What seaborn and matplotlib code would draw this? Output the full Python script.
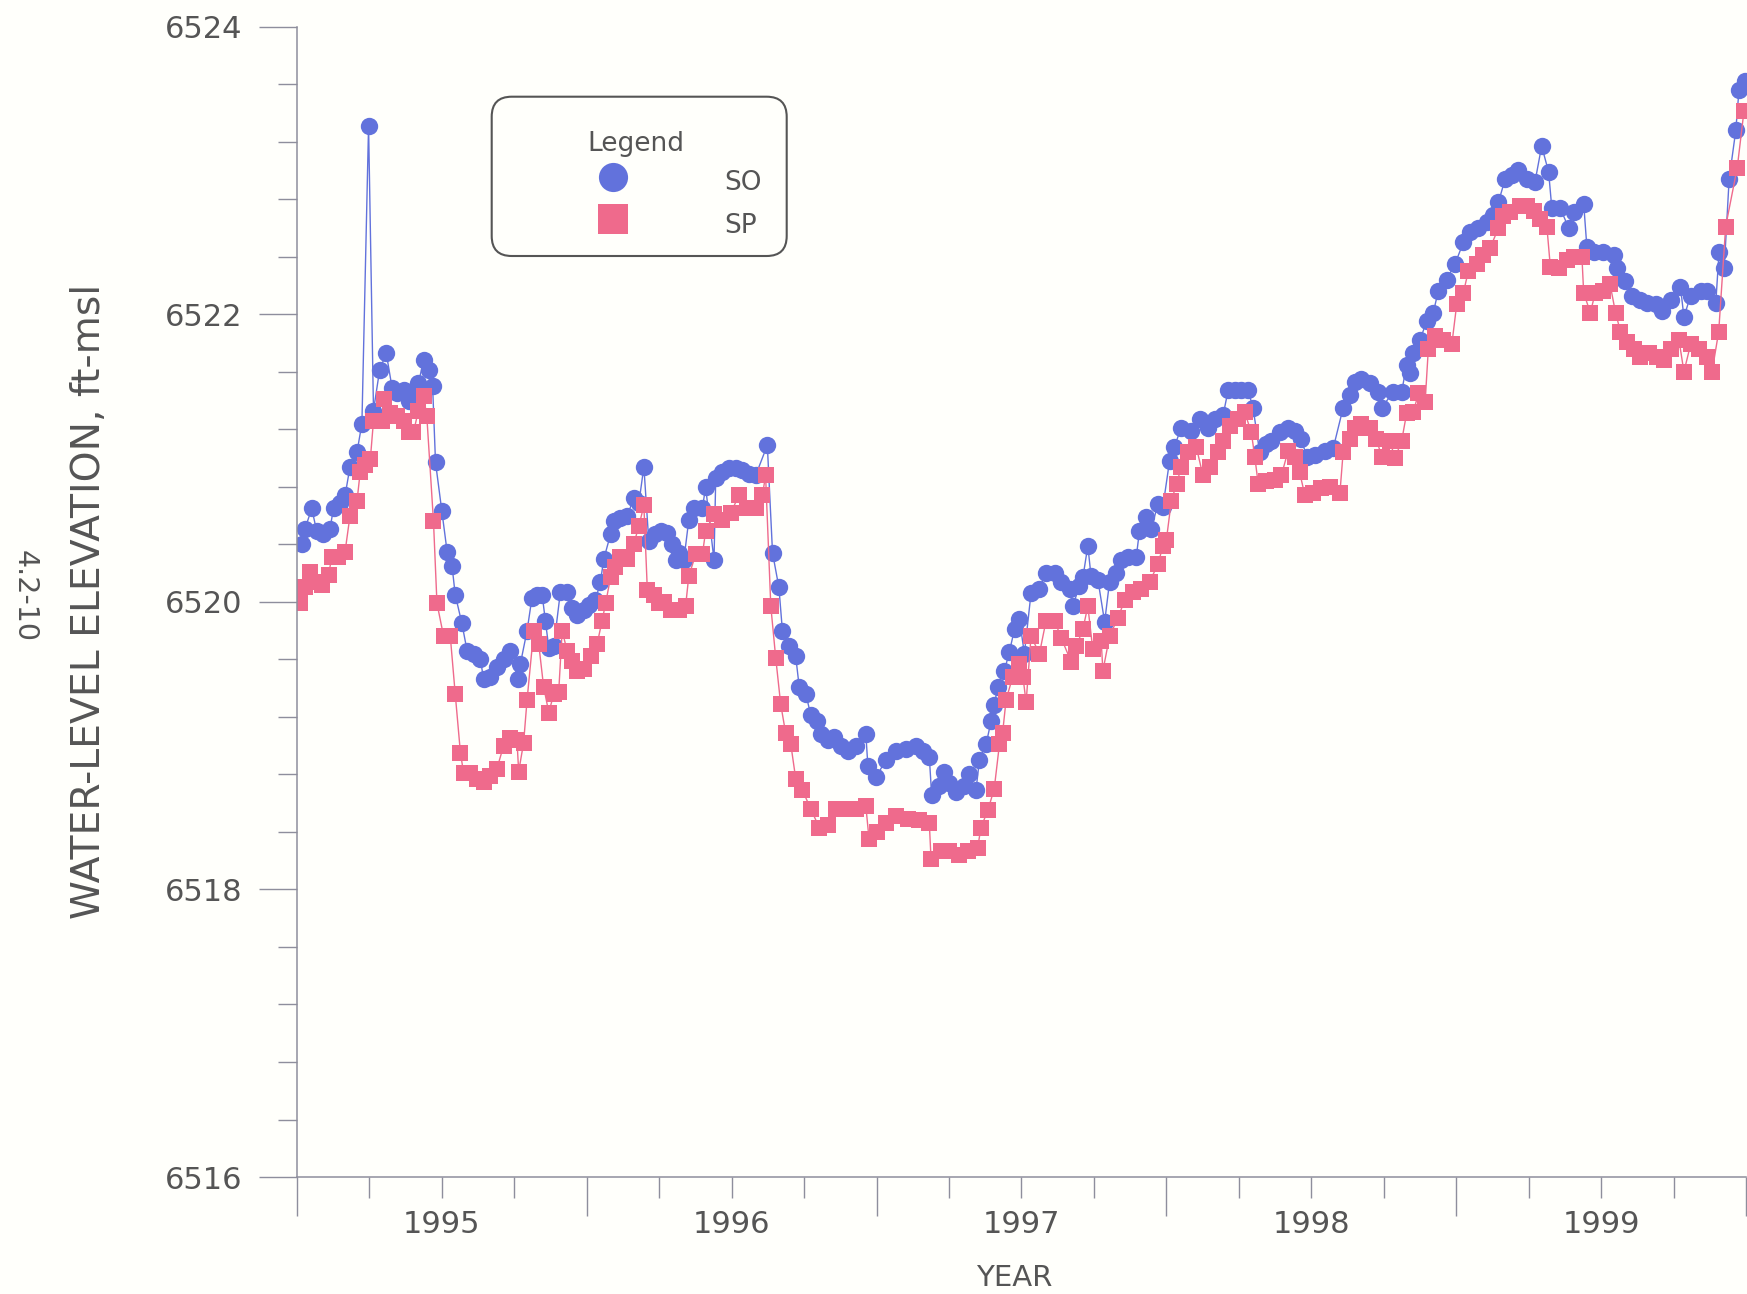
import numpy as np
import pandas as pd
import matplotlib
matplotlib.use("Agg")
import matplotlib.pyplot as plt
import seaborn as sns
from matplotlib.ticker import FixedLocator, FuncFormatter, NullFormatter
from matplotlib.lines import Line2D
from matplotlib.patches import FancyBboxPatch
from matplotlib.transforms import IdentityTransform

# Water-level observations (decimal year, elevation in ft above mean sea level)
so_year = [
    1995.017, 1995.028, 1995.051, 1995.068, 1995.091, 1995.114, 1995.126, 1995.149,
    1995.166, 1995.183, 1995.207, 1995.224, 1995.247, 1995.264, 1995.285, 1995.308,
    1995.328, 1995.345, 1995.368, 1995.385, 1995.402, 1995.419, 1995.437, 1995.454,
    1995.468, 1995.478, 1995.500, 1995.518, 1995.535, 1995.546, 1995.569, 1995.587,
    1995.610, 1995.633, 1995.644, 1995.667, 1995.690, 1995.713, 1995.736, 1995.763,
    1995.771, 1995.794, 1995.811, 1995.829, 1995.846, 1995.857, 1995.869, 1995.886,
    1995.909, 1995.932, 1995.950, 1995.967, 1995.990, 1996.007, 1996.030, 1996.047,
    1996.059, 1996.082, 1996.093, 1996.116, 1996.140, 1996.162, 1996.180, 1996.197,
    1996.214, 1996.237, 1996.255, 1996.278, 1996.295, 1996.307, 1996.318, 1996.335,
    1996.352, 1996.370, 1996.399, 1996.410, 1996.439, 1996.445, 1996.468, 1996.491,
    1996.514, 1996.537, 1996.560, 1996.583, 1996.623, 1996.641, 1996.663, 1996.675,
    1996.698, 1996.721, 1996.733, 1996.756, 1996.773, 1996.796, 1996.808, 1996.831,
    1996.854, 1996.877, 1996.900, 1996.928, 1996.963, 1996.970, 1996.998, 1997.032,
    1997.067, 1997.101, 1997.136, 1997.159, 1997.182, 1997.190, 1997.216, 1997.234,
    1997.251, 1997.274, 1997.303, 1997.320, 1997.343, 1997.355, 1997.378, 1997.395,
    1997.406, 1997.418, 1997.441, 1997.458, 1997.476, 1997.493, 1997.510, 1997.533,
    1997.562, 1997.585, 1997.614, 1997.637, 1997.666, 1997.677, 1997.700, 1997.712,
    1997.729, 1997.740, 1997.764, 1997.787, 1997.804, 1997.827, 1997.844, 1997.867,
    1997.896, 1997.907, 1997.931, 1997.948, 1997.971, 1997.988, 1998.011, 1998.028,
    1998.051, 1998.086, 1998.115, 1998.144, 1998.167, 1998.196, 1998.213, 1998.236,
    1998.259, 1998.282, 1998.299, 1998.322, 1998.345, 1998.362, 1998.391, 1998.420,
    1998.443, 1998.466, 1998.484, 1998.512, 1998.547, 1998.576, 1998.610, 1998.633,
    1998.650, 1998.673, 1998.702, 1998.731, 1998.743, 1998.783, 1998.812, 1998.829,
    1998.840, 1998.852, 1998.875, 1998.898, 1998.921, 1998.938, 1998.967, 1998.996,
    1999.025, 1999.048, 1999.077, 1999.106, 1999.128, 1999.146, 1999.169, 1999.192,
    1999.215, 1999.244, 1999.272, 1999.295, 1999.319, 1999.330, 1999.359, 1999.388,
    1999.405, 1999.440, 1999.451, 1999.474, 1999.508, 1999.543, 1999.555, 1999.583,
    1999.607, 1999.635, 1999.659, 1999.688, 1999.711, 1999.740, 1999.774, 1999.786,
    1999.809, 1999.844, 1999.867, 1999.896, 1999.907, 1999.925, 1999.942, 1999.965,
    1999.976, 1999.998,
]
so_elev = [
    6520.40, 6520.51, 6520.65, 6520.49, 6520.47, 6520.51, 6520.65, 6520.69,
    6520.74, 6520.94, 6521.04, 6521.24, 6523.31, 6521.33, 6521.61, 6521.73,
    6521.49, 6521.45, 6521.47, 6521.40, 6521.43, 6521.52, 6521.68, 6521.61,
    6521.50, 6520.97, 6520.63, 6520.35, 6520.25, 6520.05, 6519.85, 6519.66,
    6519.64, 6519.60, 6519.46, 6519.48, 6519.55, 6519.60, 6519.66, 6519.46,
    6519.57, 6519.80, 6520.03, 6520.05, 6520.05, 6519.87, 6519.68, 6519.69,
    6520.07, 6520.07, 6519.96, 6519.91, 6519.94, 6519.98, 6520.01, 6520.14,
    6520.30, 6520.47, 6520.56, 6520.58, 6520.60, 6520.72, 6520.69, 6520.94,
    6520.42, 6520.47, 6520.49, 6520.48, 6520.40, 6520.29, 6520.34, 6520.29,
    6520.57, 6520.65, 6520.65, 6520.80, 6520.29, 6520.86, 6520.90, 6520.93,
    6520.93, 6520.92, 6520.89, 6520.88, 6521.09, 6520.34, 6520.10, 6519.80,
    6519.69, 6519.62, 6519.41, 6519.36, 6519.21, 6519.17, 6519.08, 6519.04,
    6519.06, 6519.00, 6518.96, 6519.00, 6519.08, 6518.86, 6518.78, 6518.90,
    6518.96, 6518.98, 6519.00, 6518.96, 6518.92, 6518.66, 6518.72, 6518.82,
    6518.74, 6518.68, 6518.72, 6518.80, 6518.69, 6518.90, 6519.01, 6519.17,
    6519.28, 6519.41, 6519.52, 6519.65, 6519.81, 6519.88, 6519.64, 6520.06,
    6520.09, 6520.20, 6520.20, 6520.14, 6520.09, 6519.97, 6520.11, 6520.17,
    6520.39, 6520.18, 6520.15, 6519.86, 6520.14, 6520.20, 6520.29, 6520.31,
    6520.31, 6520.49, 6520.59, 6520.51, 6520.68, 6520.66, 6520.98, 6521.08,
    6521.21, 6521.19, 6521.27, 6521.21, 6521.27, 6521.30, 6521.47, 6521.47,
    6521.47, 6521.47, 6521.35, 6521.04, 6521.10, 6521.12, 6521.18, 6521.21,
    6521.19, 6521.13, 6521.01, 6521.02, 6521.05, 6521.07, 6521.35, 6521.44,
    6521.53, 6521.55, 6521.52, 6521.46, 6521.35, 6521.46, 6521.46, 6521.65,
    6521.59, 6521.73, 6521.82, 6521.95, 6522.01, 6522.16, 6522.24, 6522.35,
    6522.50, 6522.57, 6522.60, 6522.64, 6522.69, 6522.78, 6522.94, 6522.97,
    6523.00, 6522.94, 6522.92, 6523.17, 6522.99, 6522.74, 6522.74, 6522.60,
    6522.71, 6522.77, 6522.47, 6522.43, 6522.43, 6522.41, 6522.32, 6522.23,
    6522.13, 6522.10, 6522.08, 6522.07, 6522.02, 6522.10, 6522.19, 6521.98,
    6522.13, 6522.16, 6522.16, 6522.08, 6522.43, 6522.32, 6522.94, 6523.28,
    6523.56, 6523.62,
]

sp_year = [
    1995.011, 1995.028, 1995.045, 1995.068, 1995.086, 1995.109, 1995.120, 1995.143,
    1995.166, 1995.183, 1995.207, 1995.218, 1995.235, 1995.253, 1995.264, 1995.293,
    1995.299, 1995.322, 1995.345, 1995.368, 1995.385, 1995.402, 1995.419, 1995.437,
    1995.448, 1995.471, 1995.483, 1995.506, 1995.529, 1995.546, 1995.564, 1995.575,
    1995.598, 1995.621, 1995.644, 1995.667, 1995.690, 1995.713, 1995.736, 1995.759,
    1995.765, 1995.782, 1995.794, 1995.817, 1995.834, 1995.851, 1995.869, 1995.886,
    1995.903, 1995.915, 1995.932, 1995.950, 1995.967, 1995.990, 1996.013, 1996.036,
    1996.053, 1996.065, 1996.082, 1996.099, 1996.116, 1996.140, 1996.162, 1996.180,
    1996.197, 1996.209, 1996.232, 1996.249, 1996.266, 1996.289, 1996.318, 1996.341,
    1996.352, 1996.376, 1996.399, 1996.410, 1996.439, 1996.468, 1996.497, 1996.525,
    1996.554, 1996.583, 1996.606, 1996.617, 1996.635, 1996.652, 1996.669, 1996.686,
    1996.704, 1996.721, 1996.744, 1996.773, 1996.802, 1996.831, 1996.859, 1996.894,
    1996.928, 1996.963, 1996.974, 1997.003, 1997.032, 1997.067, 1997.107, 1997.147,
    1997.182, 1997.188, 1997.222, 1997.251, 1997.286, 1997.314, 1997.349, 1997.360,
    1997.384, 1997.406, 1997.424, 1997.435, 1997.447, 1997.470, 1997.493, 1997.505,
    1997.516, 1997.533, 1997.562, 1997.585, 1997.614, 1997.637, 1997.672, 1997.689,
    1997.712, 1997.729, 1997.746, 1997.775, 1997.781, 1997.804, 1997.833, 1997.856,
    1997.885, 1997.913, 1997.942, 1997.971, 1997.988, 1998.000, 1998.017, 1998.035,
    1998.052, 1998.075, 1998.103, 1998.126, 1998.149, 1998.178, 1998.196, 1998.218,
    1998.247, 1998.270, 1998.293, 1998.305, 1998.317, 1998.345, 1998.374, 1998.397,
    1998.420, 1998.443, 1998.460, 1998.478, 1998.507, 1998.535, 1998.564, 1998.599,
    1998.610, 1998.633, 1998.650, 1998.673, 1998.702, 1998.725, 1998.743, 1998.771,
    1998.789, 1998.812, 1998.829, 1998.852, 1998.870, 1998.893, 1998.904, 1998.927,
    1998.956, 1998.985, 1999.002, 1999.025, 1999.042, 1999.071, 1999.094, 1999.117,
    1999.146, 1999.163, 1999.186, 1999.221, 1999.244, 1999.267, 1999.290, 1999.313,
    1999.325, 1999.354, 1999.383, 1999.405, 1999.434, 1999.440, 1999.463, 1999.480,
    1999.508, 1999.531, 1999.550, 1999.567, 1999.590, 1999.613, 1999.636, 1999.665,
    1999.693, 1999.716, 1999.740, 1999.769, 1999.786, 1999.809, 1999.838, 1999.867,
    1999.883, 1999.906, 1999.930, 1999.970, 1999.993,
]
sp_elev = [
    6519.99, 6520.10, 6520.21, 6520.14, 6520.12, 6520.19, 6520.31, 6520.31,
    6520.35, 6520.60, 6520.70, 6520.90, 6520.95, 6520.99, 6521.26, 6521.26,
    6521.41, 6521.31, 6521.29, 6521.26, 6521.18, 6521.18, 6521.33, 6521.43,
    6521.29, 6520.56, 6519.99, 6519.76, 6519.76, 6519.36, 6518.95, 6518.81,
    6518.81, 6518.77, 6518.75, 6518.79, 6518.84, 6519.00, 6519.05, 6519.04,
    6518.82, 6519.02, 6519.32, 6519.80, 6519.71, 6519.41, 6519.23, 6519.36,
    6519.37, 6519.80, 6519.66, 6519.59, 6519.52, 6519.53, 6519.62, 6519.71,
    6519.87, 6519.99, 6520.17, 6520.24, 6520.31, 6520.30, 6520.40, 6520.53,
    6520.67, 6520.08, 6520.05, 6519.99, 6520.00, 6519.94, 6519.94, 6519.97,
    6520.18, 6520.33, 6520.33, 6520.49, 6520.61, 6520.57, 6520.62, 6520.74,
    6520.65, 6520.65, 6520.74, 6520.88, 6519.97, 6519.61, 6519.29, 6519.09,
    6519.01, 6518.77, 6518.69, 6518.56, 6518.43, 6518.45, 6518.56, 6518.56,
    6518.56, 6518.58, 6518.35, 6518.40, 6518.46, 6518.51, 6518.49, 6518.48,
    6518.46, 6518.21, 6518.27, 6518.27, 6518.24, 6518.27, 6518.29, 6518.43,
    6518.55, 6518.70, 6519.01, 6519.09, 6519.32, 6519.48, 6519.57, 6519.48,
    6519.30, 6519.76, 6519.64, 6519.87, 6519.87, 6519.75, 6519.58, 6519.69,
    6519.81, 6519.97, 6519.67, 6519.73, 6519.52, 6519.76, 6519.89, 6520.01,
    6520.07, 6520.09, 6520.14, 6520.26, 6520.39, 6520.43, 6520.70, 6520.82,
    6520.94, 6521.04, 6521.08, 6520.88, 6520.94, 6521.04, 6521.12, 6521.22,
    6521.27, 6521.32, 6521.18, 6521.01, 6520.82, 6520.84, 6520.85, 6520.88,
    6521.05, 6521.01, 6520.90, 6520.74, 6520.76, 6520.79, 6520.80, 6520.76,
    6521.04, 6521.13, 6521.21, 6521.24, 6521.21, 6521.13, 6521.01, 6521.12,
    6521.00, 6521.12, 6521.31, 6521.32, 6521.45, 6521.39, 6521.76, 6521.85,
    6521.82, 6521.79, 6522.07, 6522.15, 6522.30, 6522.35, 6522.41, 6522.46,
    6522.60, 6522.68, 6522.71, 6522.75, 6522.75, 6522.72, 6522.66, 6522.61,
    6522.33, 6522.32, 6522.38, 6522.40, 6522.40, 6522.15, 6522.01, 6522.15,
    6522.16, 6522.21, 6522.01, 6521.88, 6521.81, 6521.76, 6521.70, 6521.73,
    6521.70, 6521.68, 6521.76, 6521.82, 6521.60, 6521.79, 6521.76, 6521.70,
    6521.60, 6521.88, 6522.61, 6523.02, 6523.41,
]

series_names = ["SO", "SP"]
year_ticks = [1995, 1996, 1997, 1998, 1999, 2000]
elev_ticks = [6516, 6518, 6520, 6522, 6524]

BG = "#fffffb"
SO_COLOR = "#6272dc"
SP_COLOR = "#ef6a8c"
AXIS_COLOR = "#8e8e9c"
TEXT_COLOR = "#555555"

W, H = 1747, 1294

sns.set_style("ticks")
plt.rcParams["font.family"] = ["DejaVu Sans"]

fig = plt.figure(figsize=(W / 100, H / 100), dpi=100, facecolor=BG)
ax = fig.add_axes([0.1700, 0.0904, 0.8294, 0.8890])
ax.set_facecolor(BG)

so_df = pd.DataFrame({"year": so_year, "elev": so_elev})
sp_df = pd.DataFrame({"year": sp_year, "elev": sp_elev})

sns.lineplot(data=so_df, x="year", y="elev", ax=ax, color=SO_COLOR, marker="o",
             markersize=12.5, markeredgewidth=0, linewidth=1.0, sort=False,
             estimator=None, legend=False)
sns.lineplot(data=sp_df, x="year", y="elev", ax=ax, color=SP_COLOR, marker="s",
             markersize=11.5, markeredgewidth=0, linewidth=1.0, sort=False,
             estimator=None, legend=False)

ax.set_xlim(year_ticks[0], year_ticks[-1])
ax.set_ylim(elev_ticks[0], elev_ticks[-1])

for side in ("top", "right"):
    ax.spines[side].set_visible(False)
for side in ("left", "bottom"):
    ax.spines[side].set_color(AXIS_COLOR)
    ax.spines[side].set_linewidth(1.1)

# y axis: labelled every 2 ft, minor marks every 0.4 ft
ax.set_yticks(elev_ticks)
ax.yaxis.set_minor_locator(FixedLocator(
    [elev_ticks[0] + 0.4 * k for k in range(21) if k % 5 != 0]))
ax.tick_params(axis="y", which="major", length=27.4, width=1.0, color=AXIS_COLOR,
               labelsize=22, labelcolor=TEXT_COLOR, pad=12)
ax.tick_params(axis="y", which="minor", length=13.7, width=1.0, color=AXIS_COLOR)

# x axis: long marks at year boundaries, quarter marks, year names mid-year
ax.set_xticks(year_ticks)
ax.xaxis.set_major_formatter(NullFormatter())
quarters = [y + q for y in year_ticks[:-1] for q in (0.25, 0.5, 0.75)]
ax.xaxis.set_minor_locator(FixedLocator(quarters))
ax.xaxis.set_minor_formatter(FuncFormatter(
    lambda v, p: f"{int(np.floor(v))}" if abs(v % 1 - 0.5) < 1e-6 else ""))
ax.tick_params(axis="x", which="major", length=28, width=1.0, color=AXIS_COLOR)
ax.tick_params(axis="x", which="minor", length=15, width=1.0, color=AXIS_COLOR,
               labelsize=22, labelcolor=TEXT_COLOR, pad=9)

ax.set_ylabel("WATER-LEVEL ELEVATION, ft-msl", fontsize=28.3, color=TEXT_COLOR)
ax.yaxis.set_label_coords(-0.1435, 0.5)
ax.yaxis.label.set_verticalalignment("center")

ax.set_xlabel("YEAR", fontsize=21, color=TEXT_COLOR)
ax.xaxis.set_label_coords(0.4948, -0.0878)
ax.xaxis.label.set_verticalalignment("center")

fig.text(24.5 / W, 1 - 596 / H, "4.2-10", rotation=-90, ha="center",
         va="center", fontsize=20.5, color=TEXT_COLOR)

# Legend: entries laid out by matplotlib, framed by a rounded box behind them
handles = [
    Line2D([], [], linestyle="none", marker="o", markersize=21, color=SO_COLOR,
           markeredgewidth=0),
    Line2D([], [], linestyle="none", marker="s", markersize=21, color=SP_COLOR,
           markeredgewidth=0),
]
leg = ax.legend(handles=handles, labels=series_names, title="Legend",
                loc="upper left", bbox_to_anchor=(574.5 / W, 1 - 118.1 / H),
                bbox_transform=fig.transFigure, borderaxespad=0, fontsize=19,
                title_fontsize=19, borderpad=0.5, handlelength=1.92,
                handleheight=1.70, handletextpad=3.25, labelspacing=0.25,
                alignment="left", frameon=False, labelcolor=TEXT_COLOR)
leg.get_title().set_color(TEXT_COLOR)
leg.set_zorder(6)

frame = FancyBboxPatch((491.7, H - 256.0), 295.0, 159.3,
                       boxstyle="round,pad=0,rounding_size=20",
                       transform=IdentityTransform(), facecolor=BG,
                       edgecolor="#555555", linewidth=1.5, zorder=5)
ax.add_artist(frame)

fig.savefig("out.png", dpi=100, facecolor=BG)
